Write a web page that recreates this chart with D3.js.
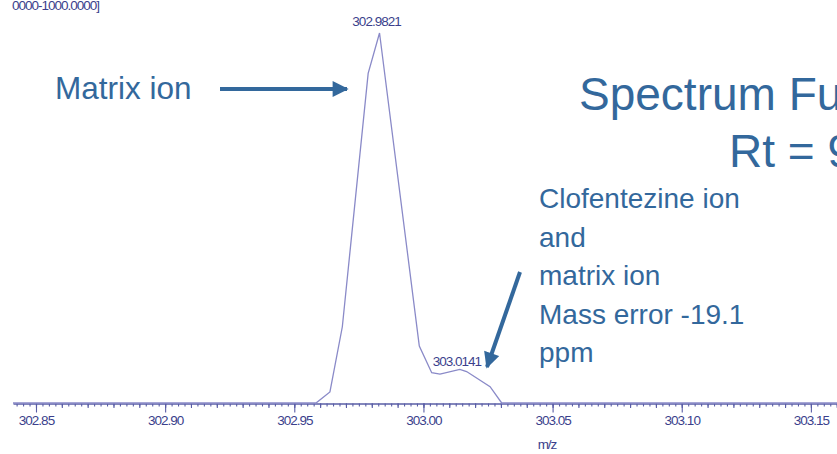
<!DOCTYPE html>
<html>
<head>
<meta charset="utf-8">
<script src="https://cdn.jsdelivr.net/npm/d3@7"></script>
<style>
  html, body { margin: 0; padding: 0; background: #fff; overflow: hidden; }
  svg { display: block; font-family: Arial, "Liberation Sans", sans-serif; }
</style>
</head>
<body>
<svg width="837" height="454"></svg>
<script>
// spectrum profile (m/z, relative intensity)
const mzValues = [302.8411, 302.9584, 302.9638, 302.9686, 302.9786, 302.9830, 302.9984, 303.0032, 303.0064, 303.0141, 303.0167, 303.0258, 303.0303, 303.1610]
const intensities = [0, 0, 30, 206, 891, 1000, 154, 82, 78, 91, 85, 44, 0, 0]
const majorTicks = [302.85, 302.90, 302.95, 303.00, 303.05, 303.10, 303.15]
const peakLabels = [
  {mz: 302.9830, value: 1000, text: '302.9821'},
  {mz: 303.0141, value: 91, text: '303.0141'}
]
const rangeLabel = '0000-1000.0000]'
const titleLines = ['Spectrum Fu', 'Rt = 9']
const noteLines = ['Clofentezine ion', 'and', 'matrix ion', 'Mass error -19.1', 'ppm']

const axisColor = '#5a5ea6'
const labelColor = '#3b3f8c'
const slideBlue = '#33689c'

const svg = d3.select('svg')

const xScale = d3.scaleLinear()
                 .domain([302.8411, 303.1611])
                 .range([13, 13 + 0.32 * 2583])
const yScale = d3.scaleLinear()
                 .domain([0, 1000])
                 .range([403, 33])

const baseY = 403.5

// minor ticks every 0.0025, mid ticks every 0.01
const minorTicks = d3.range(0, 130).map(i => 302.8425 + i * 0.0025).filter(d => d < 303.161)
const midTicks = d3.range(0, 32).map(i => 302.85 + i * 0.01)

const defs = svg.append('defs')
defs.append('marker')
    .attr('id', 'head')
    .attr('viewBox', '0 0 10 10')
    .attr('refX', 9).attr('refY', 5)
    .attr('markerWidth', 4.2).attr('markerHeight', 4)
    .attr('markerUnits', 'strokeWidth')
    .attr('orient', 'auto')
    .append('path')
    .attr('d', 'M0,0 L10,5 L0,10 z')
    .attr('fill', slideBlue)

const styleAxis = (g, size) => {
  g.select('.domain').attr('stroke', axisColor).attr('stroke-width', 1.4)
  g.selectAll('.tick line').attr('stroke', axisColor).attr('stroke-width', 1.1).attr('y2', size)
}

svg.append('g')
   .attr('transform', `translate(0, ${baseY})`)
   .call(d3.axisBottom(xScale).tickValues(minorTicks).tickFormat('').tickSizeOuter(0))
   .call(g => styleAxis(g, 3))

svg.append('g')
   .attr('transform', `translate(0, ${baseY})`)
   .call(d3.axisBottom(xScale).tickValues(midTicks).tickFormat('').tickSizeOuter(0))
   .call(g => { styleAxis(g, 4.5); g.select('.domain').remove() })

const labelFont = g => g.attr('fill', labelColor)
                        .style('font-size', '13.5px')
                        .style('letter-spacing', '-1px')

const xAxis = svg.append('g')
   .attr('transform', `translate(0, ${baseY})`)
   .call(d3.axisBottom(xScale).tickValues(majorTicks).tickFormat(d3.format('.2f')).tickSizeOuter(0))
   .call(g => { styleAxis(g, 9); g.select('.domain').remove() })
xAxis.selectAll('.tick text')
     .attr('y', 12)
     .attr('dy', '0.71em')
     .call(labelFont)

svg.append('text')
   .text('m/z')
   .attr('x', 547).attr('y', 449)
   .attr('text-anchor', 'middle')
   .call(labelFont)

svg.append('text')
   .text(rangeLabel)
   .attr('x', 12).attr('y', 10)
   .call(labelFont)

// spectrum line
const line = d3.line()
               .x((d, i) => xScale(mzValues[i]))
               .y(d => yScale(d))
svg.append('path')
   .datum(intensities)
   .attr('d', line)
   .attr('fill', 'none')
   .attr('stroke', '#8a8ac8')
   .attr('stroke-width', 1.3)

svg.selectAll('.peak')
   .data(peakLabels)
   .join('text')
   .attr('class', 'peak')
   .text(d => d.text)
   .attr('x', d => xScale(d.mz) - 3)
   .attr('y', (d, i) => i === 0 ? 26 : 366)
   .attr('text-anchor', 'middle')
   .call(labelFont)

// slide annotations
svg.append('text')
   .text('Matrix ion')
   .attr('x', 55).attr('y', 99)
   .attr('fill', slideBlue)
   .style('font-size', '31.5px')

svg.append('line')
   .attr('x1', 220).attr('y1', 89)
   .attr('x2', 347).attr('y2', 89)
   .attr('stroke', slideBlue)
   .attr('stroke-width', 4)
   .attr('marker-end', 'url(#head)')

svg.append('text')
   .text(titleLines[0])
   .attr('x', 579).attr('y', 110)
   .attr('fill', slideBlue)
   .style('font-size', '46px')
svg.append('text')
   .text(titleLines[1])
   .attr('x', 729).attr('y', 167)
   .attr('fill', slideBlue)
   .style('font-size', '46px')

svg.append('g')
   .selectAll('text')
   .data(noteLines)
   .join('text')
   .text(d => d)
   .attr('x', 539)
   .attr('y', (d, i) => 208 + i * 38.6)
   .attr('fill', slideBlue)
   .style('font-size', '28px')

svg.append('line')
   .attr('x1', 520).attr('y1', 272)
   .attr('x2', 487).attr('y2', 367)
   .attr('stroke', slideBlue)
   .attr('stroke-width', 4)
   .attr('marker-end', 'url(#head)')
</script>
</body>
</html>
